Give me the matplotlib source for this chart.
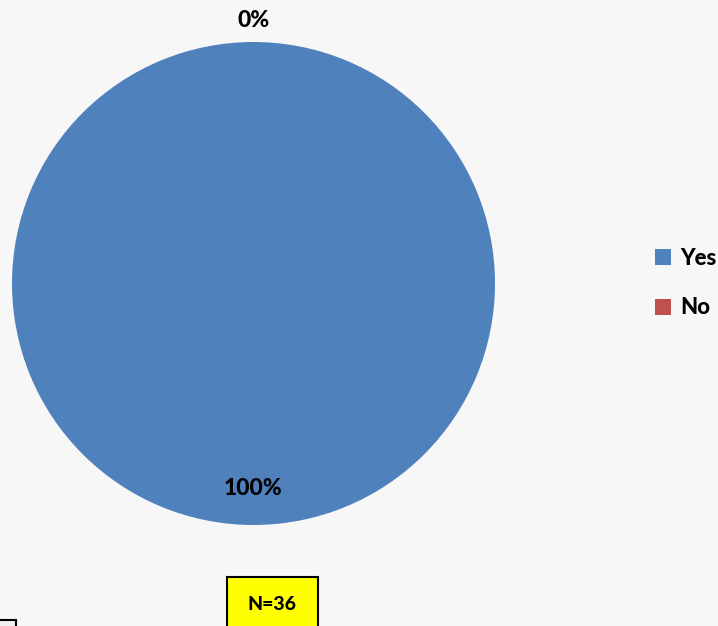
import numpy as np
import matplotlib.pyplot as plt
from matplotlib.patches import Patch, Rectangle

labels = ['Yes', 'No']
counts = [36, 0]
colors = ['#4f81bd', '#c0504d']
n_total = sum(counts)

plt.rcParams['font.family'] = ['Lato', 'DejaVu Sans']

fig = plt.figure(figsize=(7.18, 6.26), dpi=100)
fig.patch.set_facecolor('#f7f7f7')

W, H = 718, 626
ax = fig.add_axes([12 / W, (H - 525) / H, 483 / W, 483 / H])
ax.set_facecolor('none')

wedges, _ = ax.pie(counts, colors=colors, startangle=90, counterclock=False,
                   radius=1.0, wedgeprops=dict(linewidth=0))
ax.set_xlim(-1, 1)
ax.set_ylim(-1, 1)
ax.set_aspect('equal')

# percentage labels: inside for real slices, just outside for empty ones
for w, c in zip(wedges, counts):
    mid = np.deg2rad((w.theta1 + w.theta2) / 2)
    pct = 100 * c / n_total
    r = 0.85 if c > 0 else 1.09
    ax.text(r * np.cos(mid), r * np.sin(mid), f'{pct:.0f}%',
            ha='center', va='center', fontsize=16.5, fontweight='black')

handles = [Patch(facecolor=col, edgecolor='none') for col in colors]
fig.legend(handles, labels, loc='center left', bbox_to_anchor=(655 / W, 1 - 283 / H),
           frameon=False, prop=dict(size=16, weight='black'), borderaxespad=0,
           borderpad=0, handlelength=0.72, handleheight=0.72, handletextpad=0.4,
           labelspacing=1.3)

fig.text(272 / W, 1 - 604 / H, f'N={n_total}', ha='center', va='center',
         fontsize=14, fontweight='black')
fig.patches.append(Rectangle((227 / W, -0.01), 91 / W, (H - 577) / H + 0.01,
                             transform=fig.transFigure, facecolor='#ffff00',
                             edgecolor='black', linewidth=1.5, zorder=0))
fig.patches.append(Rectangle((-3 / W, -3 / H), 19 / W, 9 / H,
                             transform=fig.transFigure, facecolor='#f0f0f0',
                             edgecolor='black', linewidth=1.5, zorder=0))

fig.savefig('out.png', dpi=100, facecolor=fig.get_facecolor())
